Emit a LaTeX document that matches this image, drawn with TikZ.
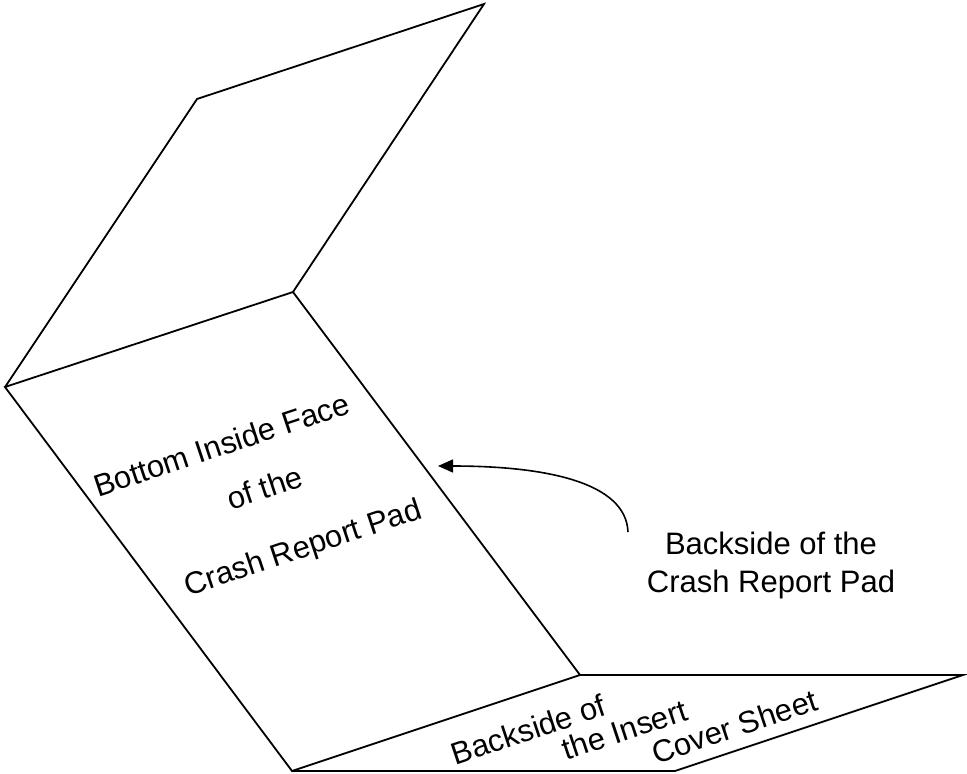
\documentclass[tikz,border=0pt]{standalone}
\usepackage{fontspec}
\setmainfont{Liberation Sans}
\usetikzlibrary{arrows.meta}

\begin{document}
\begin{tikzpicture}[
  x=1pt, y=-1pt,
  every node/.style={font=\fontsize{31}{38}\selectfont, inner sep=0pt},
  panel/.style={draw=black, line width=1.8pt, line join=miter},
  facetext/.style={rotate=18.4, anchor=base},
]
\useasboundingbox (0,0) rectangle (967,774);

% Corners of the folded pad
\coordinate (topback) at (197,99);
\coordinate (topright) at (484,4);
\coordinate (foldtop) at (293,292);
\coordinate (foldleft) at (5,387);
\coordinate (foldlow) at (580,675);
\coordinate (baseleft) at (292,771);
\coordinate (coverright) at (963,675);
\coordinate (coverlow) at (675,771);

% Upper flap
\draw[panel] (foldleft) -- (topback) -- (topright) -- (foldtop);
% Bottom inside face
\draw[panel] (foldleft) -- (foldtop) -- (foldlow) -- (baseleft) -- cycle;
% Insert cover sheet
\draw[panel] (foldlow) -- (coverright) -- (coverlow) -- (baseleft);

% Face labels
\node[facetext] (face1) at (225,455) {Bottom Inside Face};
\node[facetext] (face2) at (268,498) {of the};
\node[facetext] (face3) at (306,557) {Crash Report Pad};

\node[facetext] (cover1) at (532,740) {Backside of};
\node[facetext] (cover2) at (628,740) {the Insert};
\node[facetext] (cover3) at (738,737) {Cover Sheet};

% Callout
\node[align=center] (back) at (771,565) {Backside of the\\Crash Report Pad};
\coordinate (backtail) at (628,532);
\coordinate (backtip) at (438,466);
\draw[-{Triangle[length=15pt,width=13pt]}, line width=1.6pt]
  (backtail) .. controls (626,482) and (545,466) .. (backtip);

\end{tikzpicture}
\end{document}
